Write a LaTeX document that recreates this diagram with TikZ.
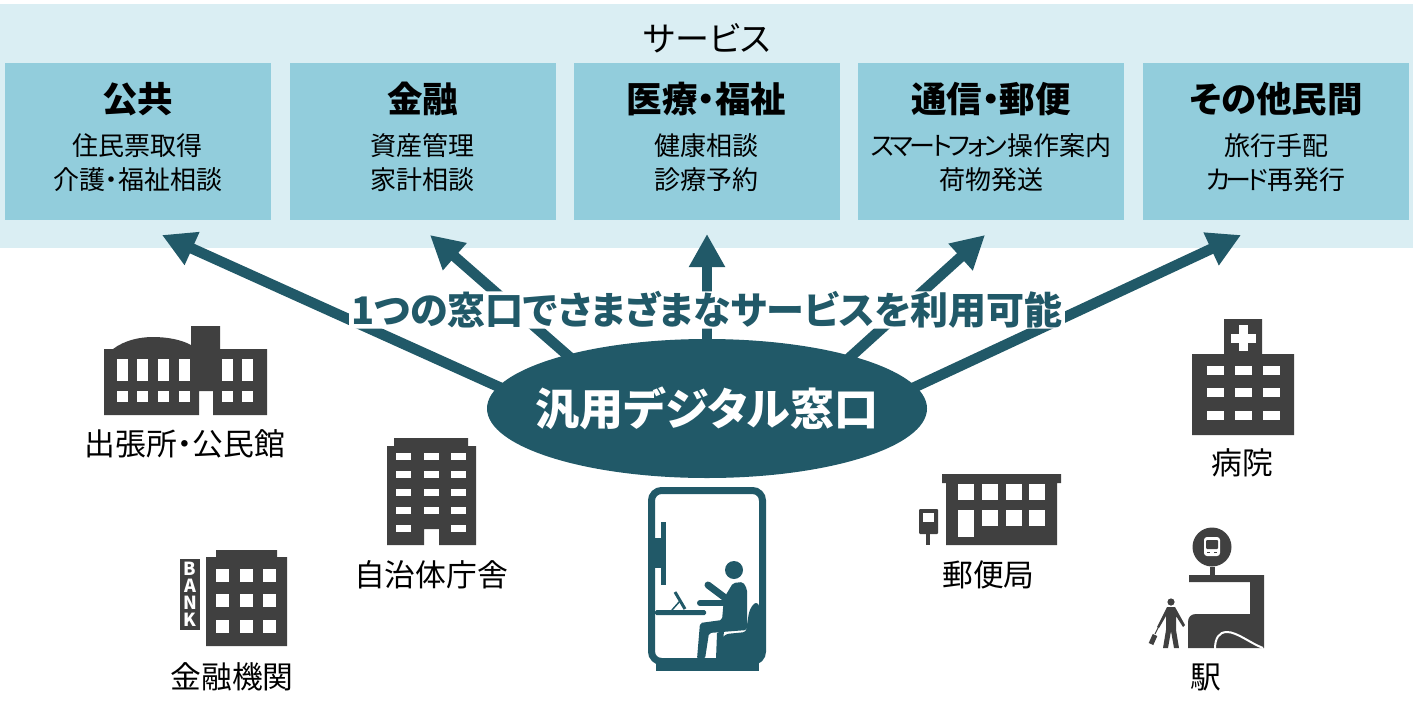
\documentclass[tikz,border=0pt]{standalone}
\usepackage{fontspec}
\usetikzlibrary{positioning,arrows.meta,shapes.geometric}
\setmainfont[RawFeature=+palt]{Noto Sans CJK JP}
\definecolor{bandblue}{HTML}{DAEEF3}
\definecolor{cardblue}{HTML}{92CDDC}
\definecolor{hubteal}{HTML}{215968}
\definecolor{icongray}{HTML}{404040}
\newcommand{\cardhead}{\fontsize{35.5}{46}\bfseries\selectfont}
\newcommand{\tightkana}[2]{{\addfontfeature{LetterSpace=#1}#2}}

\begin{document}
\begin{tikzpicture}[x=1pt,y=-1pt,
  card/.style={fill=cardblue, minimum width=266pt, minimum height=157pt, inner sep=0pt, align=center, text depth=12pt, font=\fontsize{26}{34}\selectfont},
  flow/.style={-{Triangle[length=33pt,width=34pt]}, line width=10.5pt, hubteal, shorten <=-5pt},
  place/.style={inner sep=0pt, font=\fontsize{30.8}{36}\selectfont},
  win/.style={fill=white},
  icon/.style={fill=icongray},
  booth/.style={fill=hubteal}]
\useasboundingbox (0,0) rectangle (1413,713);
\fill[bandblue] (0,4) rectangle (1413,248);
\node[inner sep=0pt, font=\fontsize{34}{40}\selectfont] (title) at (707,38) {サービス};
\node[card] (pub) at (137.5,141.5) {{\cardhead 公共}\\[9pt]住民票取得\\介護・福祉相談};
\node[card] (fin) at (422.5,141.5) {{\cardhead 金融}\\[9pt]資産管理\\家計相談};
\node[card] (med) at (706.5,141.5) {{\cardhead 医療・福祉}\\[9pt]健康相談\\診療予約};
\node[card] (post) at (991,141.5) {{\cardhead 通信・郵便}\\[9pt]\tightkana{-13}{スマートフォン}操作案内\\荷物発送};
\node[card] (other) at (1276,141.5) {{\cardhead その他民間}\\[9pt]旅行手配\\\tightkana{-16}{カード}再発行};

% window and its arrows
\node[ellipse, fill=hubteal, text=white, minimum width=440pt, minimum height=139pt, inner sep=0pt,
  font=\fontsize{44}{50}\bfseries\selectfont] (hub) at (707,408.5) {\makebox[0pt]{汎用デジタル窓口}};
\coordinate (tip1) at (162,235);
\coordinate (tip2) at (430,235);
\coordinate (tip3) at (707,234);
\coordinate (tip4) at (985,235);
\coordinate (tip5) at (1241,235);
\draw[flow] (hub.174) -- (tip1);
\draw[flow] (hub.159.5) -- (tip2);
\draw[flow] (hub.90) -- (tip3);
\draw[flow] (hub.20.5) -- (tip4);
\draw[flow] (hub.6) -- (tip5);
\node[fill=white, rounded corners=3pt, inner xsep=2pt, inner ysep=0pt, text=hubteal, font=\fontsize{38}{40}\bfseries\selectfont] (banner) at (707,310) {1つの窓口でさまざまなサービスを利用可能};

% hall
\fill[icon] (104,415) -- (104,349) -- (113,349) .. controls (125,340) and (140,337) .. (153,337)
  .. controls (168,337) and (182,340) .. (191,345) -- (191,326) -- (220,326) -- (220,349) -- (267,349) -- (267,415)
  -- (213,415) -- (213,391) -- (199,391) -- (199,415) -- cycle;
\foreach \x in {117,137,158,179,222,242} {
  \fill[win] (\x,359) rectangle ++(11,22);
  \fill[win] (\x,391) rectangle ++(11,11);
}
\node[place] (hall) at (185,444) {出張所・公民館};

% city office
\fill[icon] (387,545) -- (387,446) -- (394,446) -- (394,438) -- (468,438) -- (468,446) -- (476,446) -- (476,545)
  -- (439,545) -- (439,529) -- (424,529) -- (424,545) -- cycle;
\foreach \y in {453,471,489,507} {
  \foreach \x in {396,424,451} {
    \fill[win] (\x,\y) rectangle ++(15,7);
  }
}
\fill[win] (396,525) rectangle ++(15,7);
\fill[win] (451,525) rectangle ++(15,7);
\node[place] (city) at (431,575) {自治体庁舎};

% bank
\fill[icon] (206,646) -- (206,557) -- (216,557) -- (216,550) -- (277,550) -- (277,557) -- (287,557) -- (287,646) -- cycle;
\foreach \y in {569,594,620} {
  \foreach \x in {216,240,263} {
    \fill[win] (\x,\y) rectangle ++(13,13);
  }
}
\node[icon, minimum width=20pt, minimum height=71pt, inner sep=0pt, text=white, align=center,
  font=\fontsize{18}{17}\bfseries\selectfont] (banksign) at (190,594.5) {B\\A\\N\\K};
\node[place] (bank) at (232,677) {金融機関};

% booth
\draw[hubteal, line width=7pt, rounded corners=10pt] (651.5,490.5) rectangle (762.5,661.5);
\fill[booth] (656,658) rectangle (759,671);
\fill[booth] (655,538) rectangle (666,568);
\fill[booth] (661,522) rectangle (666,585);
\fill[booth, rounded corners=1.5pt] (655,610) rectangle (706,615);
\draw[hubteal, line width=3pt] (675,592) -- (685,609);
\draw[hubteal, line width=1.5pt] (672,610) -- (680,601);
\fill[booth] (734,570) circle (9pt);
\draw[hubteal, line width=7pt, line cap=round] (708,585) -- (724,597);
\draw[hubteal, line width=6pt, line cap=round] (700,603) -- (725,603);
\fill[booth, rounded corners=2pt] (724,598) -- (733,583) -- (743,582) -- (747,589) -- (747,630)
  -- (709,633) -- (705,659) -- (697,659) -- (700,623) -- (722,620) -- cycle;
\fill[booth] (717,633) -- (716,659) -- (722,659) -- (724,630) -- cycle;
\fill[booth, rounded corners=3pt] (721,659) -- (721,639) -- (726,634) -- (746,632) -- (748,618)
  .. controls (750,607) and (754,603) .. (759,603) -- (759,659) -- cycle;

% post office
\fill[icon] (946,545) -- (946,483) -- (942,483) -- (942,474) -- (1061,474) -- (1061,483) -- (1057,483) -- (1057,545) -- cycle;
\foreach \x in {958,982,1006,1029} {
  \fill[win] (\x,484) rectangle ++(16,16);
}
\foreach \x in {982,1006,1029} {
  \fill[win] (\x,510) rectangle ++(16,16);
}
\fill[win] (958,510) rectangle (974,537);
\fill[icon, rounded corners=1pt] (919,509) rectangle (938,534);
\fill[icon] (926,534) rectangle (930,545);
\fill[win] (923,513) rectangle (934,522);
\node[place] (postoffice) at (988.5,575) {郵便局};

% hospital
\fill[icon] (1192,435) -- (1192,354) -- (1224,354) -- (1224,319) -- (1262,319) -- (1262,354) -- (1294,354) -- (1294,435) -- cycle;
\fill[win] (1231,334) rectangle (1256,343);
\fill[win] (1239,325) rectangle (1248,351);
\foreach \y in {366,388,411} {
  \foreach \x in {1207,1235,1263} {
    \fill[win] (\x,\y) rectangle ++(17,9);
  }
}
\node[place] (hospital) at (1242,463) {病院};

% station
\fill[icon] (1212,547) circle (19.5pt);
\fill[win, rounded corners=3pt] (1204,537) rectangle (1220,556);
\fill[icon, rounded corners=1pt] (1206,540) rectangle (1218,549);
\fill[icon] (1207,552) rectangle (1210,553);
\fill[icon] (1214,552) rectangle (1217,553);
\fill[icon] (1210,567) rectangle (1215,575);
\fill[icon] (1188,648) -- (1188,622) .. controls (1188,617) and (1191,614) .. (1196,614) -- (1250,614) -- (1250,582) -- (1189,582) -- (1189,575) -- (1264,575) -- (1264,648) -- cycle;
\draw[white, line width=2pt] (1215,649) .. controls (1215,638) and (1219,632) .. (1227,632)
  .. controls (1237,632) and (1250,643) .. (1263,648);
\fill[icon] (1171,602) circle (3.6pt);
\fill[icon] (1167,607) -- (1175,607) -- (1185,625) -- (1183,627) -- (1176,616) -- (1176,630) -- (1179,648)
  -- (1174,648) -- (1171,631) -- (1168,648) -- (1163,648) -- (1166,630) -- (1166,616) -- (1159,628) -- (1157,627) -- cycle;
\draw[icongray, line width=5pt] (1151,644) -- (1155,635);
\draw[icongray, line width=1pt] (1155,634) -- (1160,624);
\node[place] (station) at (1206,677) {駅};
\end{tikzpicture}
\end{document}
